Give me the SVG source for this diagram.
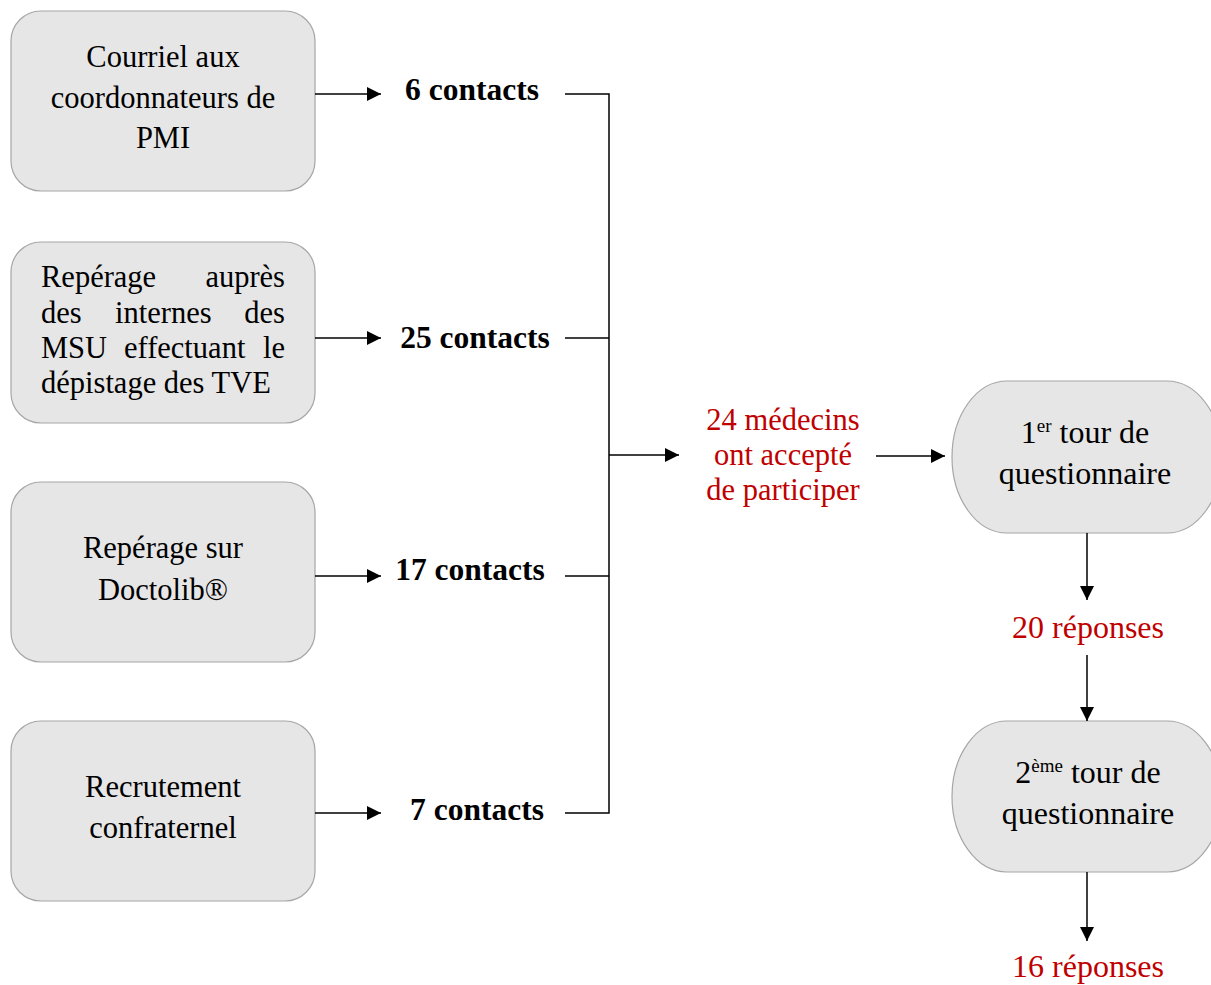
<svg xmlns="http://www.w3.org/2000/svg" width="1211" height="985" viewBox="0 0 1211 985">
<defs>
<marker id="ah" viewBox="0 0 10 10" refX="10" refY="5" markerWidth="14" markerHeight="14" markerUnits="userSpaceOnUse" orient="auto">
<path d="M0,0 L10,5 L0,10 z" fill="#000"/>
</marker>
<style>
.box{fill:#e6e6e6;stroke:#a6a6a6;stroke-width:1.2}
.t{font-family:"Liberation Serif","Times New Roman",serif;font-size:30.5px;fill:#000}
.c{text-anchor:middle}
.b{font-weight:bold;font-size:31.5px;text-anchor:middle}
.r{fill:#c00000}
.big{font-size:32px}
.ln{stroke:#000;stroke-width:1.5;fill:none}
.sup{font-size:19px}
</style>
</defs>
<rect width="1211" height="985" fill="#fff"/>

<g id="n1">
<rect class="box" x="11" y="11" width="304" height="180" rx="30" ry="30"/>
<text class="t c" x="163" y="67">Courriel aux</text>
<text class="t c" x="163" y="108">coordonnateurs de</text>
<text class="t c" x="163" y="148">PMI</text>
</g>

<g id="n2">
<rect class="box" x="11" y="242" width="304" height="181" rx="30" ry="30"/>
<text class="t" x="41" y="287">Repérage</text>
<text class="t" x="285" y="287" text-anchor="end">auprès</text>
<text class="t" x="41" y="323">des</text>
<text class="t" x="115" y="323">internes</text>
<text class="t" x="285" y="323" text-anchor="end">des</text>
<text class="t" x="41" y="358">MSU</text>
<text class="t" x="124" y="358">effectuant</text>
<text class="t" x="285" y="358" text-anchor="end">le</text>
<text class="t" x="41" y="393">dépistage des TVE</text>
</g>

<g id="n3">
<rect class="box" x="11" y="482" width="304" height="180" rx="30" ry="30"/>
<text class="t c" x="163" y="558">Repérage sur</text>
<text class="t c" x="163" y="600">Doctolib®</text>
</g>

<g id="n4">
<rect class="box" x="11" y="721" width="304" height="180" rx="30" ry="30"/>
<text class="t c" x="163" y="797">Recrutement</text>
<text class="t c" x="163" y="838">confraternel</text>
</g>

<g id="l1"><text class="t b" x="472" y="100">6 contacts</text></g>
<g id="l2"><text class="t b" x="475" y="348">25 contacts</text></g>
<g id="l3"><text class="t b" x="470" y="580">17 contacts</text></g>
<g id="l4"><text class="t b" x="477" y="820">7 contacts</text></g>

<g id="n5">
<text class="t c r" x="783" y="430">24 médecins</text>
<text class="t c r" x="783" y="465">ont accepté</text>
<text class="t c r" x="783" y="500">de participer</text>
</g>

<g id="n6">
<rect class="box" x="952" y="381" width="270" height="152" rx="55" ry="76"/>
<text class="t c big" x="1085" y="443">1<tspan class="sup" dy="-11">er</tspan><tspan dy="11"> tour de</tspan></text>
<text class="t c big" x="1085" y="484">questionnaire</text>
</g>

<g id="n7"><text class="t c r big" x="1088" y="638">20 réponses</text></g>

<g id="n8">
<rect class="box" x="952" y="721" width="270" height="151" rx="55" ry="76"/>
<text class="t c big" x="1088" y="783">2<tspan class="sup" dy="-11">ème</tspan><tspan dy="11"> tour de</tspan></text>
<text class="t c big" x="1088" y="824">questionnaire</text>
</g>

<g id="n9"><text class="t c r big" x="1088" y="977">16 réponses</text></g>

<g id="connectors">
<line class="ln" x1="315" y1="94" x2="381" y2="94" marker-end="url(#ah)"/>
<line class="ln" x1="315" y1="338" x2="381" y2="338" marker-end="url(#ah)"/>
<line class="ln" x1="315" y1="576" x2="381" y2="576" marker-end="url(#ah)"/>
<line class="ln" x1="315" y1="813" x2="381" y2="813" marker-end="url(#ah)"/>
<polyline class="ln" points="565,94 609,94 609,813 565,813"/>
<line class="ln" x1="565" y1="338" x2="609" y2="338"/>
<line class="ln" x1="565" y1="576" x2="609" y2="576"/>
<line class="ln" x1="609" y1="455" x2="679" y2="455" marker-end="url(#ah)"/>
<line class="ln" x1="876" y1="456" x2="945" y2="456" marker-end="url(#ah)"/>
<line class="ln" x1="1087" y1="533" x2="1087" y2="600" marker-end="url(#ah)"/>
<line class="ln" x1="1087" y1="655" x2="1087" y2="721" marker-end="url(#ah)"/>
<line class="ln" x1="1087" y1="872" x2="1087" y2="941" marker-end="url(#ah)"/>
</g>
</svg>
